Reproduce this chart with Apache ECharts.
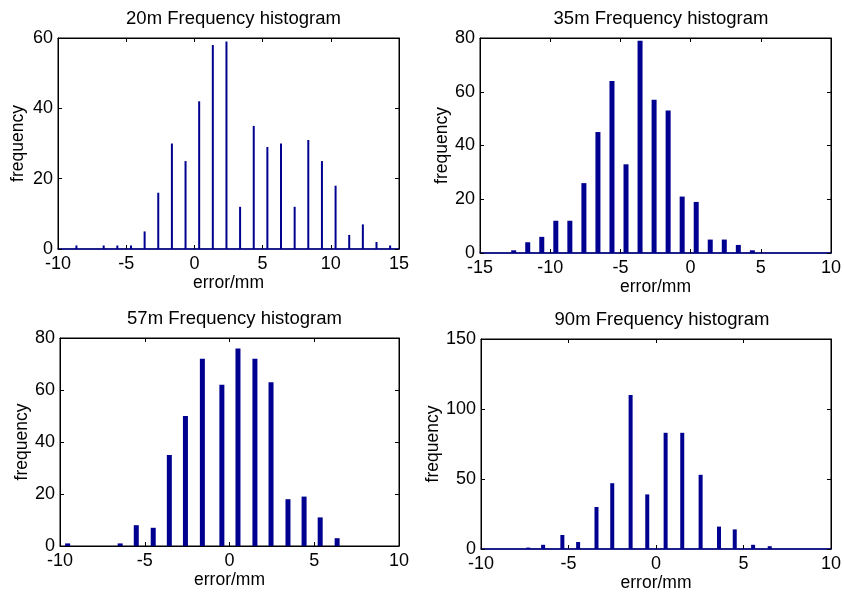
<!DOCTYPE html>
<html>
<head>
<meta charset="utf-8">
<script src="https://cdn.jsdelivr.net/npm/echarts@6/dist/echarts.min.js"></script>
<style>
  html, body { margin: 0; padding: 0; background: #fff; }
  #chart { width: 844px; height: 597px; }
</style>
</head>
<body>
<div id="chart"></div>
<script>
// bin centres (mm) and counts
var x20 = [-8.65, -6.65, -5.65, -4.65, -3.65, -2.65, -1.65, -0.65, 0.35, 1.35, 2.35, 3.35, 4.35, 5.35, 6.35, 7.35, 8.35, 9.35, 10.35, 11.35, 12.35, 13.35, 14.35];
var y20 = [1, 1, 1, 1, 5, 16, 30, 25, 42, 58, 59, 12, 35, 29, 30, 12, 31, 25, 18, 4, 7, 2, 1];

var x35 = [-12.6, -11.6, -10.6, -9.6, -8.6, -7.6, -6.6, -5.6, -4.6, -3.6, -2.6, -1.6, -0.6, 0.4, 1.4, 2.4, 3.4, 4.4];
var y35 = [1, 4, 6, 12, 12, 26, 45, 64, 33, 79, 57, 53, 21, 19, 5, 5, 3, 1];

var x57 = [-9.55, -6.45, -5.5, -4.5, -3.55, -2.6, -1.6, -0.45, 0.5, 1.5, 2.45, 3.45, 4.4, 5.35, 6.35];
var y57 = [1, 1, 8, 7, 35, 50, 72, 62, 76, 72, 63, 18, 19, 11, 3];

var x90 = [-7.3, -6.45, -5.35, -4.45, -3.4, -2.5, -1.45, -0.5, 0.55, 1.5, 2.55, 3.6, 4.5, 5.55, 6.5];
var y90 = [1, 3, 10, 5, 30, 47, 110, 39, 83, 83, 53, 16, 14, 3, 2];

var titles = ['20m Frequency histogram', '35m Frequency histogram', '57m Frequency histogram', '90m Frequency histogram'];
var xRanges = [[-10, 15], [-15, 10], [-10, 10], [-10, 10]];
var yRanges = [[0, 60, 20], [0, 80, 20], [0, 80, 20], [0, 150, 50]];

var FONT = '"Liberation Sans", Arial, Helvetica, sans-serif';
var BLUE = '#000090';

// plot boxes in px: left, top, width, height
var boxes = [
  [58, 38, 341, 211],
  [480, 38, 352, 215],
  [60, 338, 339, 208],
  [481, 339, 352, 210]
];
var yNameGap = [31, 29, 28, 38];
var baseBlue = [true, true, false, true];

function pairs(xs, ys) {
  var out = [];
  for (var i = 0; i < xs.length; i++) {
    out.push([xs[i], ys[i]]);
  }
  return out;
}

var option = {
  animation: false,
  backgroundColor: '#fff',
  textStyle: { fontFamily: FONT },
  title: [],
  grid: [],
  xAxis: [],
  yAxis: [],
  series: []
};

var allData = [pairs(x20, y20), pairs(x35, y35), pairs(x57, y57), pairs(x90, y90)];
var barWidths = [2, 5, 5, 4];

for (var i = 0; i < 4; i++) {
  var b = boxes[i];
  option.title.push({
    text: titles[i],
    left: b[0] + b[2] / 2,
    top: b[1] - 34,
    textAlign: 'center',
    textStyle: { fontFamily: FONT, fontSize: 18.5, fontWeight: 'normal', color: '#000' }
  });
  option.grid.push({
    left: b[0], top: b[1], width: b[2], height: b[3],
    show: true, borderColor: '#000', borderWidth: 1, backgroundColor: '#fff'
  });
  // bottom axis with labels
  option.xAxis.push({
    type: 'value', gridIndex: i, position: 'bottom',
    min: xRanges[i][0], max: xRanges[i][1], interval: 5,
    name: 'error/mm', nameLocation: 'middle', nameGap: 25,
    nameTextStyle: { fontFamily: FONT, fontSize: 17.5, color: '#000' },
    axisLine: { show: true, onZero: false, lineStyle: { color: baseBlue[i] ? BLUE : '#000', width: baseBlue[i] ? 1.5 : 1 } },
    axisTick: { show: true, inside: true, length: 4, lineStyle: { color: '#000' } },
    axisLabel: { fontFamily: FONT, fontSize: 18, color: '#000', margin: 6 },
    splitLine: { show: false }
  });
  // top axis, ticks only
  option.xAxis.push({
    type: 'value', gridIndex: i, position: 'top',
    min: xRanges[i][0], max: xRanges[i][1], interval: 5,
    axisLine: { show: true, onZero: false, lineStyle: { color: '#000' } },
    axisTick: { show: true, inside: true, length: 4, lineStyle: { color: '#000' } },
    axisLabel: { show: false },
    splitLine: { show: false }
  });
  option.yAxis.push({
    type: 'value', gridIndex: i, position: 'left',
    min: yRanges[i][0], max: yRanges[i][1], interval: yRanges[i][2],
    name: 'frequency', nameLocation: 'middle', nameGap: yNameGap[i],
    nameTextStyle: { fontFamily: FONT, fontSize: 17.5, color: '#000' },
    axisLine: { show: true, onZero: false, lineStyle: { color: '#000' } },
    axisTick: { show: true, inside: true, length: 4, lineStyle: { color: '#000' } },
    axisLabel: { fontFamily: FONT, fontSize: 18, color: '#000', margin: 5 },
    splitLine: { show: false }
  });
  option.yAxis.push({
    type: 'value', gridIndex: i, position: 'right',
    min: yRanges[i][0], max: yRanges[i][1], interval: yRanges[i][2],
    axisLine: { show: true, onZero: false, lineStyle: { color: '#000' } },
    axisTick: { show: true, inside: true, length: 4, lineStyle: { color: '#000' } },
    axisLabel: { show: false },
    splitLine: { show: false }
  });
  option.series.push({
    type: 'bar',
    xAxisIndex: i * 2,
    yAxisIndex: i * 2,
    barWidth: barWidths[i],
    itemStyle: { color: BLUE },
    data: allData[i]
  });
}

var chart = echarts.init(document.getElementById('chart'), null, { renderer: 'canvas' });
chart.setOption(option);
</script>
</body>
</html>
